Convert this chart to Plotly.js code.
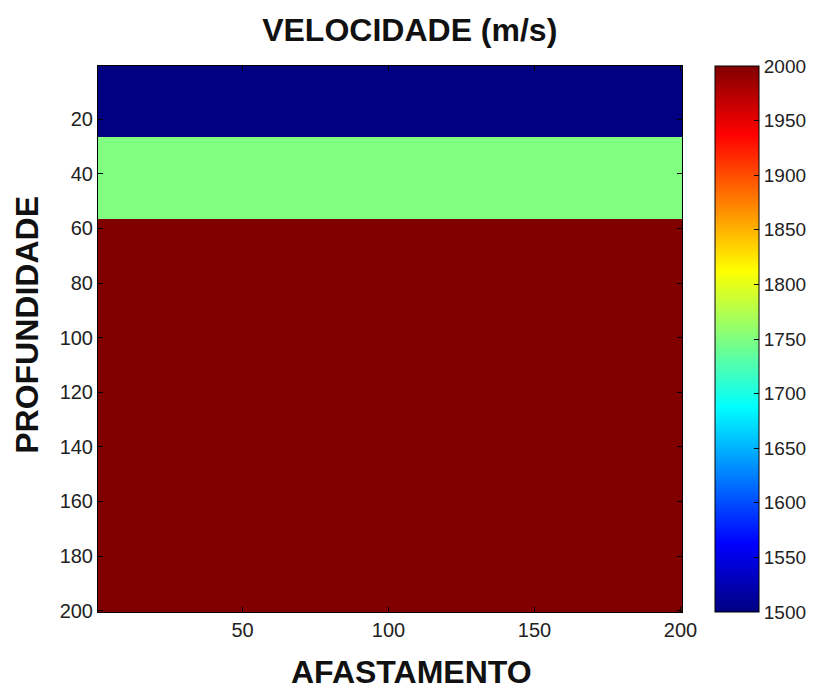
<!DOCTYPE html>
<html>
<head>
<meta charset="utf-8">
<script src="https://cdn.plot.ly/plotly-3.0.1.min.js"></script>
<style>html,body{margin:0;padding:0;background:#fff;}#chart{width:813px;height:689px;}</style>
</head>
<body>
<div id="chart"></div>
<script>
// Layer model (depth edges in grid rows, velocity per layer)
var offsetEdges = [0.5, 200.5];
var depthEdges = [0.5, 26.5, 56.5, 200.5];
var layerVelocity = [1500, 1750, 2000];
var yTicks = [20, 40, 60, 80, 100, 120, 140, 160, 180, 200];
var xTicks = [50, 100, 150, 200];
var cbTicks = [1500, 1550, 1600, 1650, 1700, 1750, 1800, 1850, 1900, 1950, 2000];

var z = layerVelocity.map(function (v) { return [v]; });

var jet = [
  [0, 'rgb(0,0,128)'],
  [0.125, 'rgb(0,0,255)'],
  [0.375, 'rgb(0,255,255)'],
  [0.625, 'rgb(255,255,0)'],
  [0.875, 'rgb(255,0,0)'],
  [1, 'rgb(128,0,0)']
];

var FONT = 'Liberation Sans, Arial, sans-serif';

var trace = {
  type: 'heatmap',
  x: offsetEdges,
  y: depthEdges,
  z: z,
  zmin: 1500,
  zmax: 2000,
  colorscale: jet,
  hoverinfo: 'z',
  colorbar: {
    x: 1.0565, xanchor: 'left',
    y: 0.5, yanchor: 'middle',
    len: 1, lenmode: 'fraction',
    thickness: 44, thicknessmode: 'pixels',
    outlinecolor: '#000', outlinewidth: 1,
    ticks: 'inside', ticklen: 5, tickcolor: '#000',
    tickvals: cbTicks,
    tickfont: {family: FONT, size: 19, color: '#222'},
    xpad: 0, ypad: 0
  }
};

var axisFont = {family: FONT, size: 20, color: '#222'};
var titleFont = {family: FONT, size: 32, color: '#111'};
var layout = {
  width: 813, height: 689,
  paper_bgcolor: '#fff', plot_bgcolor: '#fff',
  margin: {l: 98, r: 131, t: 66, b: 77, autoexpand: false},
  title: {
    text: '<b>VELOCIDADE (m/s)</b>',
    font: titleFont,
    x: 0.504, xanchor: 'center', xref: 'container', y: 0.957, yanchor: 'middle'
  },
  xaxis: {
    range: [0.5, 200.5],
    tickvals: xTicks,
    ticks: 'inside', ticklen: 5, tickcolor: '#000',
    showline: true, linecolor: '#000', linewidth: 1, mirror: 'ticks',
    showgrid: false, zeroline: false,
    tickfont: axisFont
  },
  yaxis: {
    range: [200.5, 0.5],
    tickvals: yTicks,
    ticks: 'inside', ticklen: 5, tickcolor: '#000',
    showline: true, linecolor: '#000', linewidth: 1, mirror: 'ticks',
    showgrid: false, zeroline: false,
    tickfont: axisFont
  },
  annotations: [
    {text: '<b>AFASTAMENTO</b>', font: titleFont, showarrow: false,
     xref: 'paper', yref: 'paper', x: 0.536, y: -0.11, xanchor: 'center', yanchor: 'middle'},
    {text: '<b>PROFUNDIDADE</b>', font: titleFont, showarrow: false, textangle: -90,
     xref: 'paper', yref: 'paper', x: -0.122, y: 0.5256, xanchor: 'center', yanchor: 'middle'}
  ]
};

Plotly.newPlot('chart', [trace], layout, {displayModeBar: false, staticPlot: true});
</script>
</body>
</html>
